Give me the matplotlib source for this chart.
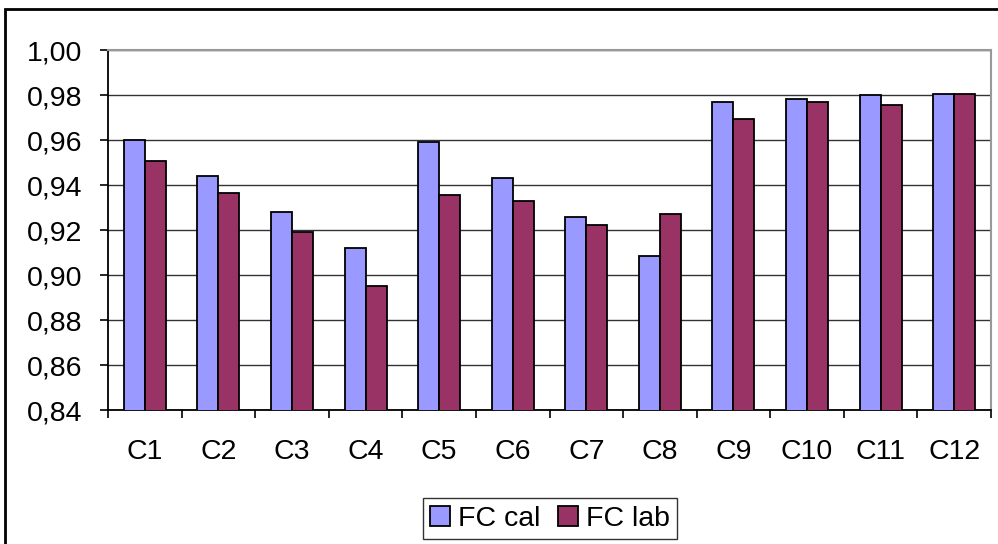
import matplotlib
matplotlib.use("Agg")
import matplotlib.pyplot as plt
import numpy as np
from matplotlib.patches import Rectangle
from matplotlib.ticker import FixedLocator, FuncFormatter

categories = ["C1", "C2", "C3", "C4", "C5", "C6", "C7", "C8", "C9", "C10", "C11", "C12"]
fc_cal = [0.960, 0.944, 0.928, 0.912, 0.959, 0.943, 0.9256, 0.9086, 0.977, 0.9784, 0.9799, 0.9806]
fc_lab = [0.9507, 0.9364, 0.9192, 0.8951, 0.9357, 0.9329, 0.9221, 0.9271, 0.9692, 0.977, 0.9756, 0.9806]
y_ticks = [0.84, 0.86, 0.88, 0.90, 0.92, 0.94, 0.96, 0.98, 1.00]

plt.rcParams['font.family'] = ['Liberation Sans', 'DejaVu Sans']

fig = plt.figure(figsize=(9.98, 5.44), dpi=100)
ax = fig.add_axes([108/998, 1-410/544, (991-108)/998, (410-50)/544])

x = np.arange(len(categories))
w = 1/3.5
ax.bar(x - w/2, fc_cal, width=w, bottom=0, color="#9999FF", edgecolor="black", linewidth=1.3, label="FC cal", zorder=3)
ax.bar(x + w/2, fc_lab, width=w, bottom=0, color="#993366", edgecolor="black", linewidth=1.3, label="FC lab", zorder=3)

ax.set_ylim(0.84, 1.00)
ax.set_xlim(-0.5, len(categories) - 0.5)
ax.yaxis.set_major_locator(FixedLocator(y_ticks))
ax.yaxis.set_major_formatter(FuncFormatter(lambda v, p: f"{v:.2f}".replace(".", ",")))
ax.grid(axis="y", color="#333333", linewidth=1.0, zorder=0)

ax.set_xticks(x)
ax.set_xticklabels(categories)
ax.set_xticks(np.arange(len(categories) + 1) - 0.5, minor=True)
ax.tick_params(axis="x", which="major", length=0, pad=21, labelsize=20.5)
ax.tick_params(axis="x", which="minor", length=5.8, width=1.2, direction="out")
ax.tick_params(axis="y", length=5.8, width=1.2, direction="out", pad=13, labelsize=20.5)

for s in ["left", "bottom"]:
    ax.spines[s].set_color("black")
    ax.spines[s].set_linewidth(1.3)
for s in ["top", "right"]:
    ax.spines[s].set_color("#999999")
    ax.spines[s].set_linewidth(1.5)

leg = fig.legend(loc="center", bbox_to_anchor=(550/998, 1-518.5/544), ncol=2, fontsize=20.5,
                 frameon=True, fancybox=False, edgecolor="black", handlelength=0.7,
                 handleheight=0.7, handletextpad=0.3, columnspacing=0.6, borderpad=0.25,
                 borderaxespad=0)
leg.get_frame().set_linewidth(1.0)

fig.patches.append(Rectangle((4.5/998, -0.1), 1.2, 1 - 9/544 + 0.1, transform=fig.transFigure,
                             fill=False, edgecolor="black", linewidth=2, zorder=0))

fig.savefig("out.png", dpi=100)
